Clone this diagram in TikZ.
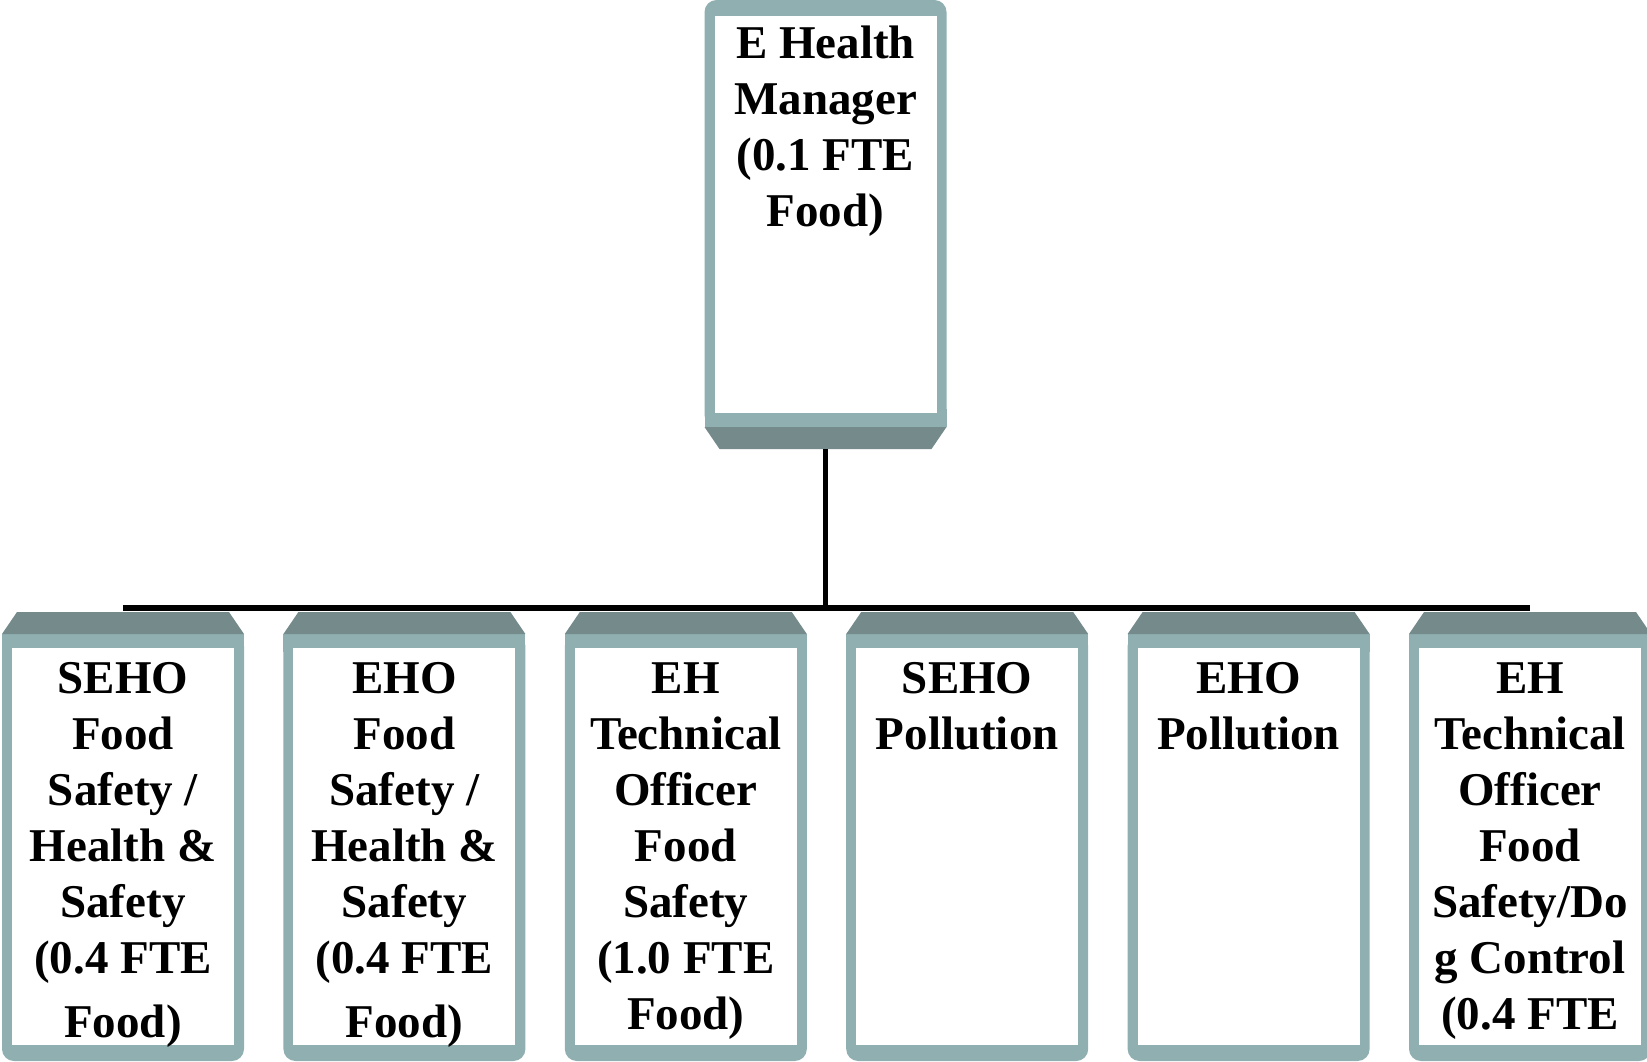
\documentclass[tikz,border=0pt]{standalone}
\usepackage{fontspec}
\newfontfamily\postfont{Liberation Serif}
\definecolor{shellteal}{RGB}{143,175,177}
\definecolor{capteal}{RGB}{116,138,139}
\usetikzlibrary{positioning}

\tikzset{
  pics/post/.style={code={
    \fill[shellteal, rounded corners=12pt] (-121,22) rectangle (121,449);
    \fill[shellteal] (-121,22) rectangle (121,40);
    \fill[capteal] (-106,0) -- (106,0) -- (121,22) -- (-121,22) -- cycle;
    \fill[white] (-111,36) rectangle (111,433);
    \node[inner sep=0pt, minimum width=242pt, minimum height=449pt] (-frame) at (0,224.5) {};
  }},
  role/.style={anchor=north, align=center, inner sep=0pt, font=\postfont\bfseries\fontsize{47}{56}\selectfont},
  wire/.style={line width=5.5pt}
}

\begin{document}
\begin{tikzpicture}[x=1pt, y=-1pt]
  \useasboundingbox (0,0) rectangle (1647,1061);

  % manager on top, cap turned to the bottom
  \pic[yscale=-1] (boss) at (825.5,449) {post};
  \node[role] (manager) at (825.5,18.8) {\strut E Health\\Manager\\(0.1 FTE\\Food)};

  % staff row
  \pic (sehofood) at (123,612) {post};
  \pic (ehofood) at (404.4,612) {post};
  \pic (techfood) at (685.8,612) {post};
  \pic (sehopoll) at (967.2,612) {post};
  \pic (ehopoll) at (1248.6,612) {post};
  \pic (techdog) at (1530,612) {post};

  \node[role] (sehofood-text) at (123,653.8) {\strut SEHO\\Food\\Safety /\\Health \&\\Safety\\(0.4 FTE\\[8pt]Food)};
  \node[role] (ehofood-text) at (404.4,653.8) {\strut EHO\\Food\\Safety /\\Health \&\\Safety\\(0.4 FTE\\[8pt]Food)};
  \node[role] (techfood-text) at (685.8,653.8) {\strut EH\\Technical\\Officer\\Food\\Safety\\(1.0 FTE\\Food)};
  \node[role] (sehopoll-text) at (967.2,653.8) {\strut SEHO\\Pollution};
  \node[role] (ehopoll-text) at (1248.6,653.8) {\strut EHO\\Pollution};
  \node[role] (techdog-text) at (1530,653.8) {\strut EH\\Technical\\Officer\\Food\\Safety/Do\\g Control\\(0.4 FTE};

  % connectors
  \coordinate (bus) at (825.5,608);
  \draw[wire] (boss-frame.south) -- (bus);
  \draw[wire] (sehofood-frame.north |- bus) -- (techdog-frame.north |- bus);
\end{tikzpicture}
\end{document}
